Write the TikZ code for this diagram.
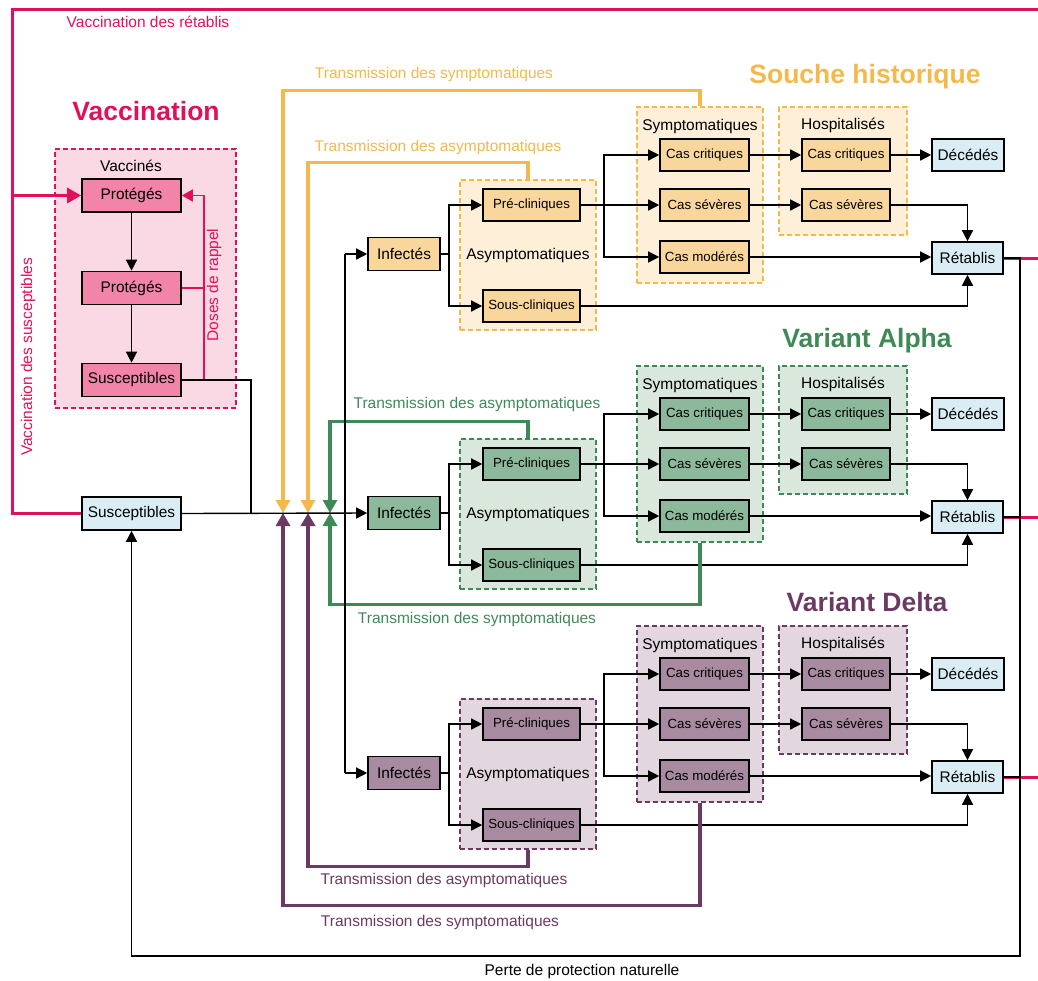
\documentclass[tikz,border=0pt]{standalone}
\usepackage{fontspec}
\setmainfont{Liberation Sans}
\usetikzlibrary{arrows.meta,calc}
\definecolor{pinkc}{HTML}{E2105A}
\definecolor{pinkbox}{HTML}{F184A8}
\definecolor{pinkgrp}{HTML}{FAD9E4}
\definecolor{ylw}{HTML}{F4B84B}
\definecolor{ybox}{HTML}{F9D69B}
\definecolor{ygrp}{HTML}{FDEFD8}
\definecolor{grn}{HTML}{3E8A57}
\definecolor{gbox}{HTML}{8CB99B}
\definecolor{ggrp}{HTML}{D9E7DD}
\definecolor{prp}{HTML}{6B3A62}
\definecolor{pbox}{HTML}{A88BA0}
\definecolor{pgrp}{HTML}{E2D7DE}
\definecolor{blu}{HTML}{DAEDF5}
\tikzset{
  box/.style={draw=black, line width=1.6pt, minimum height=32pt, inner sep=0pt, font=\fontsize{15.4}{18}\selectfont},
  sbox/.style={box, font=\fontsize{13.3}{16}\selectfont},
  grp/.style={draw, line width=1.3pt, dash pattern=on 5pt off 3pt, inner sep=0pt},
  conn/.style={line width=1.4pt, draw=black},
  arr/.style={conn, -{Triangle[length=11pt,width=11pt]}},
  lbl/.style={inner sep=0pt, font=\fontsize{15.5}{18}\selectfont},
  ttl/.style={inner sep=0pt, font=\bfseries\fontsize{26.5}{30}\selectfont},
  tr/.style={line width=3.3pt, -{Triangle[length=13pt,width=14pt]}},
  pk/.style={line width=3pt, draw=pinkc},
  pkthin/.style={line width=1.5pt, draw=pinkc},
}
\newcommand\strainblock[5]{%
\begin{scope}[shift={(0,#2)}]
  \node[grp, draw=#5, fill=#4, minimum width=136pt, minimum height=150pt] (#1asym) at (528,1) {};
  \node[grp, draw=#5, fill=#4, minimum width=126pt, minimum height=176pt] (#1sym) at (700,-59) {};
  \node[grp, draw=#5, fill=#4, minimum width=128pt, minimum height=128pt] (#1hosp) at (843,-83) {};
  \node[lbl] (#1asymt) at (528,1) {Asymptomatiques};
  \node[lbl] (#1symt) at (700,-128) {Symptomatiques};
  \node[lbl] (#1hospt) at (843,-129) {Hospitalisés};
  \node[box, fill=#3, minimum width=72pt, minimum height=33pt] (#1inf) at (404,0) {Infectés};
  \node[sbox, fill=#3, minimum width=97pt] (#1pre) at (531.5,-49) {Pré-cliniques};
  \node[sbox, fill=#3, minimum width=97pt] (#1sous) at (531.5,52) {Sous-cliniques};
  \node[sbox, fill=#3, minimum width=89pt] (#1scrit) at (704.5,-99) {Cas critiques};
  \node[sbox, fill=#3, minimum width=89pt] (#1ssev) at (704.5,-49) {Cas sévères};
  \node[sbox, fill=#3, minimum width=89pt] (#1smod) at (704.5,3) {Cas modérés};
  \node[sbox, fill=#3, minimum width=88pt] (#1hcrit) at (846,-99) {Cas critiques};
  \node[sbox, fill=#3, minimum width=88pt] (#1hsev) at (846,-49) {Cas sévères};
  \node[box, fill=blu, minimum width=72pt] (#1dec) at (968,-99) {Décédés};
  \node[box, fill=blu, minimum width=71pt] (#1ret) at (967.5,4) {Rétablis};
  \coordinate (#1b1) at (449,0);
  \coordinate (#1b2) at (604,-49);
  \draw[conn] (#1inf.east) -- (#1b1);
  \draw[arr] (#1b1) |- (#1pre.west);
  \draw[arr] (#1b1) |- (#1sous.west);
  \draw[arr] (#1pre.east) -- (#1ssev.west);
  \draw[arr] (#1b2) |- (#1scrit.west);
  \draw[arr] (#1b2) |- (#1smod.west);
  \draw[arr] (#1scrit.east) -- (#1hcrit.west);
  \draw[arr] (#1ssev.east) -- (#1hsev.west);
  \draw[arr] (#1hcrit.east) -- (#1dec.west);
  \draw[arr] (#1hsev.east) -| (#1ret.north);
  \draw[arr] (#1smod.east) -- (#1smod.east -| #1ret.west);
  \draw[arr] (#1sous.east) -| (#1ret.south);
\end{scope}}
\begin{document}
\begin{tikzpicture}[x=1pt,y=-1pt]
\useasboundingbox (0,0) rectangle (1038,980);
% coordinates
\coordinate (tr) at (1038,9);
\coordinate (tl) at (12,9);
\coordinate (rx2) at (204,0);
\coordinate (j0) at (251,513);
\coordinate (j1) at (283,513);
\coordinate (j2) at (308,513);
\coordinate (j3) at (330,513);
\coordinate (vx) at (345,513);
\coordinate (rx) at (1020,956);
% vaccination block
\node[ttl, text=pinkc] (vtitle) at (146,111) {Vaccination};
\node[grp, draw=pinkc, fill=pinkgrp, minimum width=181pt, minimum height=259pt] (vgrp) at (145.5,278.5) {};
\node[lbl] (vacct) at (131,166) {Vaccinés};
\node[box, fill=pinkbox, minimum width=99pt, minimum height=33pt] (vp1) at (131.5,195.5) {Protégés};
\node[box, fill=pinkbox, minimum width=99pt, minimum height=33pt] (vp2) at (131.5,288) {Protégés};
\node[box, fill=pinkbox, minimum width=99pt, minimum height=33pt] (vsus) at (131.5,380) {Susceptibles};
\node[box, fill=blu, minimum width=99pt, minimum height=33pt] (susc) at (131.5,513.5) {Susceptibles};
\draw[arr] (vp1) -- (vp2);
\draw[arr] (vp2) -- (vsus);
\draw[pkthin, -{Triangle[length=11pt,width=12pt]}] (vsus.east -| rx2) |- (vp1.east);
\draw[pkthin] (vp2.east) -- (vp2.east -| rx2);
\node[lbl, text=pinkc, rotate=90] (doses) at (214,285) {Doses de rappel};
\draw[conn] (vsus.east) -| (j0);
% strains
\strainblock{h}{254}{ybox}{ygrp}{ylw}
\strainblock{a}{513}{gbox}{ggrp}{grn}
\strainblock{d}{773}{pbox}{pgrp}{prp}
\node[ttl, text=ylw] (htitle) at (865,77) {Souche historique};
\node[ttl, text=grn] (atitle) at (867,341) {Variant Alpha};
\node[ttl, text=prp] (dtitle) at (867,602) {Variant Delta};
% transmission lines
\draw[tr, draw=ylw] (hsym.north) -- ++(0,-16) -| (j1);
\draw[tr, draw=ylw] (hasym.north) -- ++(0,-17) -| (j2);
\draw[tr, draw=grn] (aasym.north) -- ++(0,-17) -| (j3);
\draw[tr, draw=grn] (asym.south) -- ++(0,62) -| (j3);
\draw[tr, draw=prp] (dasym.south) -- ++(0,17) -| (j2);
\draw[tr, draw=prp] (dsym.south) -- ++(0,103) -| (j1);
\node[lbl, text=ylw] (l1) at (434,74) {Transmission des symptomatiques};
\node[lbl, text=ylw] (l2) at (438,147) {Transmission des asymptomatiques};
\node[lbl, text=grn] (l3) at (477,404) {Transmission des asymptomatiques};
\node[lbl, text=grn] (l4) at (477,619) {Transmission des symptomatiques};
\node[lbl, text=prp] (l5) at (444,880) {Transmission des asymptomatiques};
\node[lbl, text=prp] (l6) at (440,922) {Transmission des symptomatiques};
% main line
\draw[arr] (susc.east) -- (ainf.west);
\draw[conn] (hinf.west -| vx) -- (dinf.west -| vx);
\draw[arr] (hinf.west -| vx) -- (hinf.west);
\draw[arr] (dinf.west -| vx) -- (dinf.west);
% vaccination pink lines
\draw[pk] (tr) -- (tl) -- (tl |- susc.west) -- (susc.west);
\draw[pk, -{Triangle[length=14pt,width=15pt]}] (tl |- vp1.west) -- (vp1.west);
\node[lbl, text=pinkc] (vr) at (148,22) {Vaccination des rétablis};
\node[lbl, text=pinkc, rotate=90] (vs) at (28,357) {Vaccination des susceptibles};
% recovered
\draw[pk] (hret.east) -- (hret.east -| tr);
\draw[pk] (aret.east) -- (aret.east -| tr);
\draw[pk] (dret.east) -- (dret.east -| tr);
\draw[conn] (aret.east) -- (aret.east -| rx);
\draw[conn] (dret.east) -- (dret.east -| rx);
\draw[arr] (hret.east) -| (rx) -| (susc.south);
\node[lbl] (perte) at (582,971) {Perte de protection naturelle};
\end{tikzpicture}
\end{document}
